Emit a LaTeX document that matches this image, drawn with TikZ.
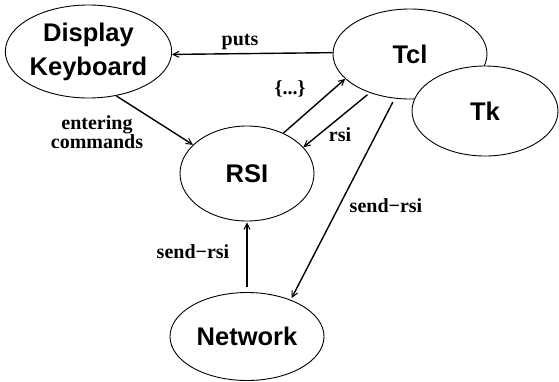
\documentclass[tikz,border=0pt]{standalone}
\usepackage{fontspec}
\setmainfont{Liberation Serif}
\newfontfamily\hvfont{Liberation Sans}
\usetikzlibrary{shapes.geometric,arrows.meta}
\begin{document}
\begin{tikzpicture}[x=1pt,y=-1pt,
  ell/.style={ellipse,draw,line width=0.9pt,inner sep=0pt,align=center,
    font=\hvfont\bfseries\fontsize{25.5}{34}\selectfont},
  conn/.style={line width=1.4pt,-{Straight Barb[length=6pt,width=6pt,line width=1pt]}},
  lbl/.style={inner sep=0pt,font=\bfseries\fontsize{20}{16.5}\selectfont}]
\useasboundingbox (0,0) rectangle (559,381);
\node[ell,minimum width=153pt,minimum height=93pt] (disp) at (88.5,51.5) {Display\\Keyboard};
\node[ell,minimum width=154pt,minimum height=90pt] (tcl) at (410,54) {Tcl};
\node[ell,fill=white,minimum width=146pt,minimum height=90pt] (tk) at (485,111) {Tk};
\node[ell,minimum width=134pt,minimum height=95pt] (rsi) at (247,173.5) {RSI};
\node[ell,minimum width=154pt,minimum height=88pt] (net) at (247,336.5) {Network};
% connectors
\draw[conn] (tcl.179) -- (disp.-2);
\draw[conn] (disp.-58) -- (rsi.152);
\draw[conn] (rsi.48) -- (tcl.-159);
\draw[conn,shorten <=3pt] (tcl.-136) -- (rsi.25);
\draw[conn,shorten <=4pt,shorten >=2pt] (tcl.-109) -- (net.40);
\draw[conn,shorten <=5pt,shorten >=1pt] (net) -- (rsi);
% labels
\node[lbl,anchor=base] (lputs) at (240,45) {puts};
\node[lbl,align=center] (lent) at (97,132) {entering\\commands};
\node[lbl] (lbr) at (290,89) {\{...\}};
\node[lbl,anchor=base] (lrsi) at (340,141) {rsi};
\node[lbl,anchor=base] (lsr1) at (386,212) {send−rsi};
\node[lbl,anchor=base] (lsr2) at (193,258) {send−rsi};
\end{tikzpicture}
\end{document}
